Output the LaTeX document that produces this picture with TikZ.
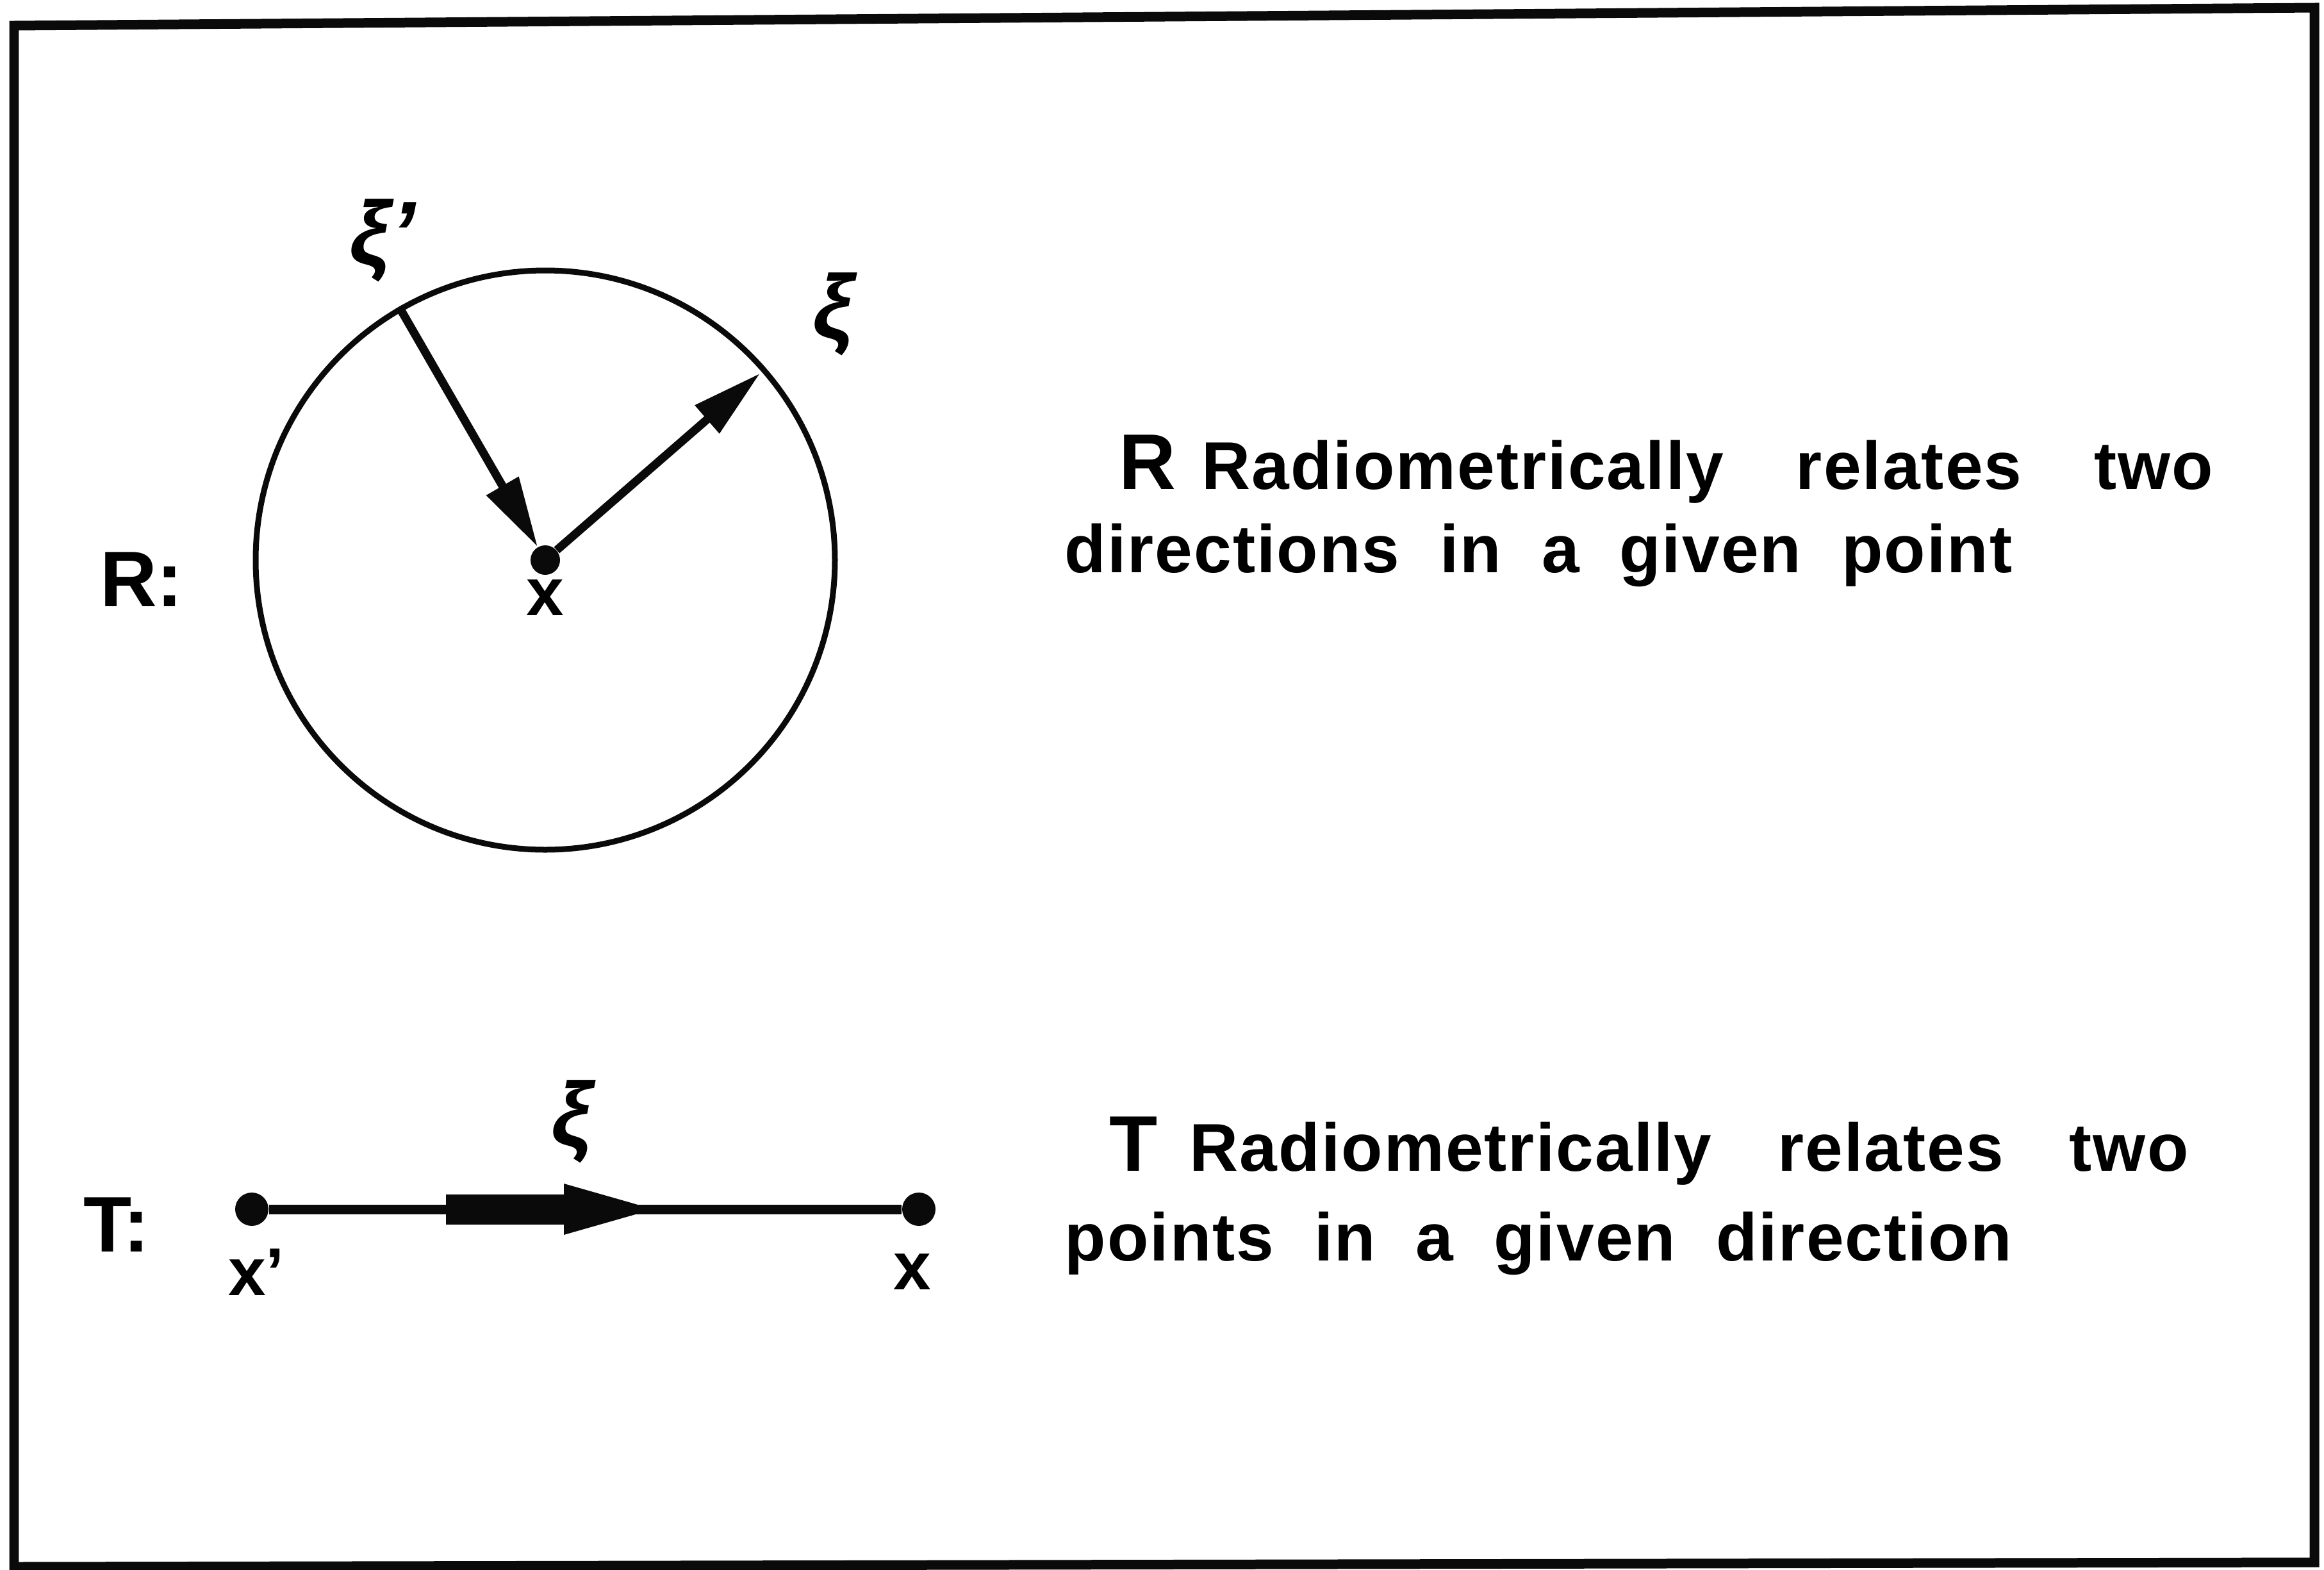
\documentclass[tikz,border=0pt]{standalone}
\usepackage{fontspec}
\usepackage{tikz}
\usetikzlibrary{positioning,arrows.meta}
\setmainfont{Liberation Sans}
\newfontfamily\lettering{Liberation Sans}[LetterSpace=2,WordSpace=2.0]
\definecolor{ink}{RGB}{10,10,10}

\begin{document}
\begin{tikzpicture}[textline/.style={anchor=base west, inner sep=0pt, font=\fontsize{30}{36}\selectfont\lettering\bfseries}, sym/.style={inner sep=0pt, font=\fontsize{30}{36}\selectfont\bfseries}, greek/.style={inner sep=0pt, font=\fontsize{40}{46}\selectfont\bfseries\itshape}, pointdot/.style={circle, fill=ink, inner sep=0pt, minimum size=0.46cm}, arrow/.style={-{Triangle[length=1.1cm,width=0.55cm]}, draw=ink, line width=0.13cm}]
\useasboundingbox (0,0) rectangle (36.27,-24.50);
\draw[ink, line width=0.15cm] (0.22,-0.40) -- (36.12,-0.12) -- (36.12,-24.38) -- (0.22,-24.45) -- cycle;
% R: two directions in one point
\node[circle, draw=ink, line width=0.09cm, minimum size=9.04cm, inner sep=0pt] (sphere) at (8.51,-8.74) {};
\node[pointdot] (ctr) at (8.51,-8.74) {};
\node[sym, below=0.06cm of ctr] (xr) {x};
\draw[arrow] (sphere.120) -- (ctr);
\draw[arrow, shorten >=0.12cm] (ctr) -- (sphere.41.5);
\node[greek] (xiin) at (5.97,-3.75) {ξ'};
\node[greek] (xiout) at (13.00,-4.90) {ξ};
\node[sym, font=\fontsize{35}{40}\selectfont\bfseries] (rlab) at (2.21,-9.04) {R:};
% T: two points in one direction
\node[pointdot, minimum size=0.52cm] (xa) at (3.93,-18.87) {};
\node[pointdot, minimum size=0.52cm] (xb) at (14.34,-18.87) {};
\draw[ink, line width=0.15cm] (xa) -- (xb);
\coordinate (shaft) at (6.96,-18.87);
\coordinate (tip) at (10.20,-18.87);
\draw[ink, line width=0.47cm, -{Triangle[length=1.4cm,width=0.8cm,line width=0pt]}] (shaft) -- (tip);
\node[sym] (xalab) at (4.00,-19.85) {x'};
\node[sym] (xblab) at (14.24,-19.85) {x};
\node[greek] (xit) at (8.92,-17.50) {ξ};
\node[sym, font=\fontsize{35}{40}\selectfont\bfseries] (tlab) at (1.82,-19.11) {T:};
% captions
\node[textline] (r1) at (17.46,-7.63) {{\fontsize{35}{40}\selectfont R}\hspace{0.4cm}Radiometrically\hspace{0.5cm} relates\hspace{0.5cm} two};
\node[textline] (r2) at (16.61,-8.93) {directions in a given point};
\node[textline] (t1) at (17.31,-18.27) {{\fontsize{35}{40}\selectfont T}\hspace{0.5cm}Radiometrically\hspace{0.4cm} relates\hspace{0.4cm} two};
\node[textline] (t2) at (16.61,-19.67) {points in a given direction};
\end{tikzpicture}
\end{document}
